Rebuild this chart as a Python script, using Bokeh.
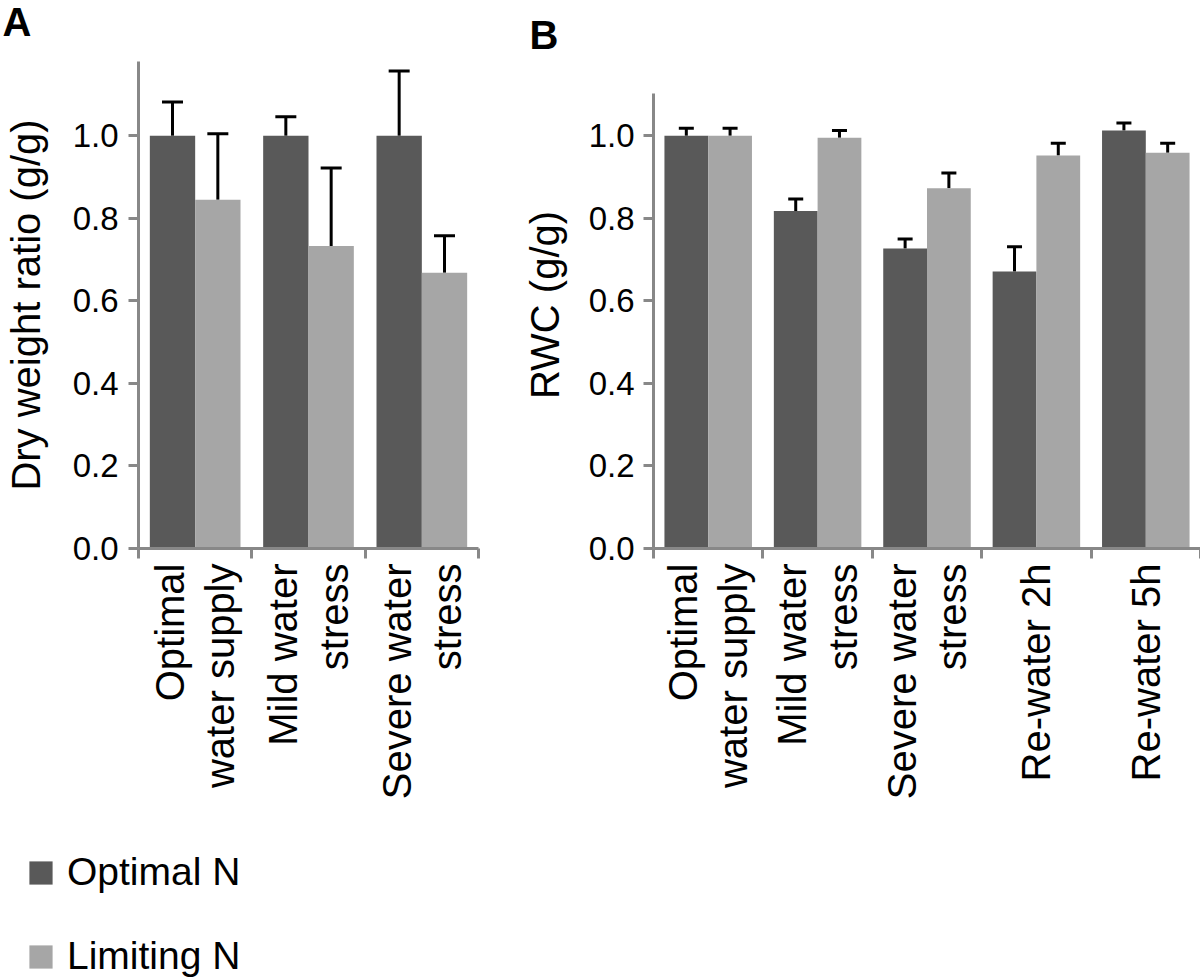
import math
import numpy as np
from bokeh.plotting import figure
from bokeh.core.properties import value
from bokeh.models import (ColumnDataSource, Whisker, TeeHead, FixedTicker,
                          NumeralTickFormatter, Range1d, Legend, LegendItem)
from bokeh.layouts import column, row
from bokeh.embed import file_html
from bokeh.resources import INLINE

FONT = "Liberation Sans"
DARK = "#595959"
LIGHT = "#a6a6a6"
AXIS = "#888888"

# ---- data -------------------------------------------------------------
series_names = ["Optimal N", "Limiting N"]
panel_letters = ["A", "B"]
y_ticks = [0.0, 0.2, 0.4, 0.6, 0.8, 1.0]

a_categories = ["Optimal\nwater supply", "Mild water\nstress", "Severe water\nstress"]
a_optimal_n = [1.0, 1.0, 1.0]
a_optimal_n_upper = [1.082, 1.046, 1.157]
a_limiting_n = [0.845, 0.733, 0.668]
a_limiting_n_upper = [1.005, 0.922, 0.758]
a_axis_max = 1.18

b_categories = ["Optimal\nwater supply", "Mild water\nstress", "Severe water\nstress",
                "Re-water 2h", "Re-water 5h"]
b_optimal_n = [1.0, 0.818, 0.727, 0.671, 1.013]
b_optimal_n_upper = [1.018, 0.847, 0.750, 0.731, 1.031]
b_limiting_n = [1.0, 0.995, 0.873, 0.952, 0.959]
b_limiting_n_upper = [1.018, 1.013, 0.910, 0.982, 0.982]
b_axis_max = 1.102

Y_MAX = 1.18


def panel(cats, opt, opt_up, lim, lim_up, axis_max, width, height,
          mbl, mbr, mbb, ylabel, cap, ytick_out, ystandoff, label_standoff):
    n = len(cats)
    idx = np.arange(n)
    p = figure(width=width, height=height, x_range=Range1d(0, n),
               y_range=Range1d(0, Y_MAX), output_backend="svg",
               toolbar_location=None, min_border_left=mbl, min_border_right=mbr,
               min_border_top=0, min_border_bottom=mbb)
    p.outline_line_color = None
    p.grid.visible = False
    p.background_fill_color = "white"
    p.border_fill_color = "white"

    src_o = ColumnDataSource(dict(x=idx + 0.3, top=opt, upper=opt_up))
    src_l = ColumnDataSource(dict(x=idx + 0.7, top=lim, upper=lim_up))
    p.vbar(x="x", top="top", width=0.4, source=src_o, fill_color=DARK, line_color=None)
    p.vbar(x="x", top="top", width=0.4, source=src_l, fill_color=LIGHT, line_color=None)
    for s in (src_o, src_l):
        w = Whisker(source=s, base="x", lower="top", upper="upper", dimension="height",
                    line_color="black", line_width=3,
                    upper_head=TeeHead(size=cap, line_color="black", line_width=3),
                    lower_head=None)
        p.add_layout(w)

    # x axis: ticks at category boundaries, labels at centers
    xa = p.xaxis[0]
    xa.ticker = FixedTicker(ticks=list(idx + 0.5), minor_ticks=list(range(n + 1)))
    xa.major_label_overrides = {float(i + 0.5): c for i, c in enumerate(cats)}
    xa.major_label_orientation = math.pi / 2
    xa.major_tick_line_color = None
    xa.major_tick_out = 0
    xa.major_tick_in = 0
    xa.minor_tick_line_color = AXIS
    xa.minor_tick_line_width = 3
    xa.minor_tick_out = 10
    xa.minor_tick_in = 0
    xa.axis_line_color = AXIS
    xa.axis_line_width = 3
    xa.major_label_text_font = FONT
    xa.major_label_text_font_size = "40px"
    xa.major_label_text_color = "black"
    xa.major_label_text_line_height = 1.15
    xa.major_label_standoff = 5

    ya = p.yaxis[0]
    ya.bounds = (0, axis_max)
    ya.ticker = FixedTicker(ticks=y_ticks)
    ya.formatter = NumeralTickFormatter(format="0.0")
    ya.major_tick_line_color = AXIS
    ya.major_tick_line_width = 3
    ya.major_tick_out = ytick_out
    ya.major_tick_in = 0
    ya.minor_tick_line_color = None
    ya.axis_line_color = AXIS
    ya.axis_line_width = 3
    ya.major_label_text_font = FONT
    ya.major_label_text_font_size = "33px"
    ya.major_label_text_color = "black"
    ya.major_label_standoff = ystandoff
    ya.axis_label = ylabel
    ya.axis_label_text_font = FONT
    ya.axis_label_text_font_size = "40px"
    ya.axis_label_text_font_style = "normal"
    ya.axis_label_text_color = "black"
    ya.axis_label_standoff = label_standoff
    return p


# panel letters strip (page-pixel coordinates, y measured downwards)
top = figure(width=1200, height=61, x_range=Range1d(0, 1200), y_range=Range1d(61, 0),
             output_backend="svg", toolbar_location=None, min_border=0,
             x_axis_location=None, y_axis_location=None, title=None)
top.grid.visible = False
top.outline_line_color = None
top.text(x=[2, 529], y=[21, 34], text=panel_letters, text_font=value(FONT),
         text_font_size="40px", text_font_style="bold", text_color="black",
         text_baseline="alphabetic", text_align="left")

pa = panel(a_categories, a_optimal_n, a_optimal_n_upper, a_limiting_n, a_limiting_n_upper,
           a_axis_max, width=500, height=779, mbl=130, mbr=22, mbb=292,
           ylabel="Dry weight ratio (g/g)", cap=21, ytick_out=10, ystandoff=10,
           label_standoff=22)
pb = panel(b_categories, b_optimal_n, b_optimal_n_upper, b_limiting_n, b_limiting_n_upper,
           b_axis_max, width=700, height=779, mbl=153, mbr=0, mbb=292,
           ylabel="RWC (g/g)", cap=15, ytick_out=10, ystandoff=9, label_standoff=19)

lg = figure(width=500, height=140, x_range=Range1d(0, 1), y_range=Range1d(0, 1),
            output_backend="svg", toolbar_location=None, min_border=0,
            x_axis_location=None, y_axis_location=None)
lg.grid.visible = False
lg.outline_line_color = None
r1 = lg.vbar(x=[2], top=[0], width=0.1, fill_color=DARK, line_color=None)
r2 = lg.vbar(x=[2], top=[0], width=0.1, fill_color=LIGHT, line_color=None)
legend = Legend(items=[LegendItem(label=series_names[0], renderers=[r1]),
                       LegendItem(label=series_names[1], renderers=[r2])],
                location=(26, 2), orientation="vertical", glyph_width=29,
                glyph_height=29, label_standoff=12, spacing=40, padding=0, margin=0,
                border_line_color=None, background_fill_alpha=0,
                label_text_font=FONT, label_text_font_size="39px",
                label_text_color="black")
lg.add_layout(legend)

layout = column(top, row(pa, pb), lg)
open("out.html", "w").write(file_html(layout, INLINE))
